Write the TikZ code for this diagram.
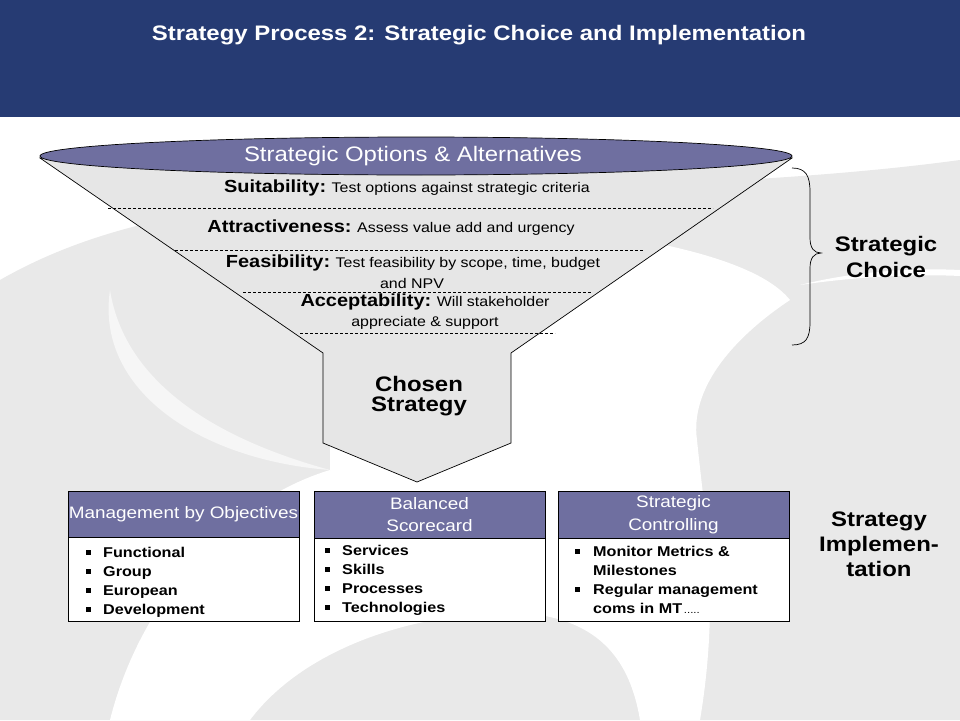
\documentclass[tikz,border=0pt]{standalone}
\usepackage{fontspec}
\setmainfont{Liberation Sans}[FakeStretch=1.14]
\usetikzlibrary{shapes.geometric}
\definecolor{navy}{HTML}{263B73}
\definecolor{band}{HTML}{6F6FA0}
\definecolor{bggrey}{HTML}{E9E9E9}
\definecolor{funnelgrey}{HTML}{E6E6E6}
\newcommand{\fs}[1]{\fontsize{#1}{#1}\selectfont}
\begin{document}
\begin{tikzpicture}[x=1pt,y=-1pt,
  outline/.style={draw=black,line width=0.7pt},
  sepline/.style={draw=black,line width=0.5pt,dash pattern=on 3pt off 2pt},
  hdrtext/.style={text=white,align=center,font=\fs{16.6}},
  itemtext/.style={anchor=base west,font=\bfseries\fs{14.2},inner sep=0pt},
  bigbold/.style={align=center,font=\bfseries\fs{21}}]
\useasboundingbox (0,0) rectangle (960,720);
% background
\fill[white] (0,0) rectangle (960,720);
\fill[bggrey] (0,280) .. controls (110,217) and (250,195) .. (480,190)
  .. controls (700,185) and (850,175) .. (960,160) -- (960,720) -- (0,720) -- cycle;
\fill[white] (330,300) -- (640,240) .. controls (720,255) and (770,275) .. (790,300)
  .. controls (730,340) and (690,390) .. (697,440)
  .. controls (705,520) and (720,600) .. (700,720) -- (640,720)
  .. controls (630,660) and (600,625) .. (540,615)
  .. controls (440,605) and (310,640) .. (250,720) -- (110,720)
  .. controls (140,600) and (230,500) .. (330,470) -- cycle;
\fill[white!60!bggrey] (110,290) .. controls (95,390) and (200,460) .. (330,470)
  .. controls (220,440) and (125,385) .. (110,290) -- cycle;
\fill[white] (800,285) .. controls (860,270) and (920,268) .. (960,270) -- (960,276)
  .. controls (920,274) and (860,276) .. (800,285) -- cycle;
% header
\fill[navy] (0,0) rectangle (960,117);
\node[text=white,font=\bfseries\fs{21}] (title) at (479,35) {Strategy Process 2: Strategic Choice and Implementation};
% funnel
\filldraw[fill=funnelgrey,outline] (40,158) -- (323,353) -- (323,443) -- (417,482)
  -- (511,443) -- (511,353) -- (792,158) -- cycle;
\filldraw[fill=band,outline] (416,156) ellipse [x radius=376pt, y radius=19pt];
\node[text=white,font=\fs{21}] (opts) at (413,156) {Strategic Options \& Alternatives};
% dashed separators
\draw[sepline] (108,208) -- (713,208);
\draw[sepline] (175,250) -- (643,250);
\draw[sepline] (243,292) -- (592,292);
\draw[sepline] (300,333) -- (555,333);
% criteria
\node (suit) at (407,188) {\bfseries\fs{17.5}Suitability:\ \mdseries\fs{14}Test options against strategic criteria};
\node (attr) at (391,228) {\bfseries\fs{17.5}Attractiveness:\ \mdseries\fs{14}Assess value add and urgency};
\node (feas) at (413,263) {\bfseries\fs{17.5}Feasibility:\ \mdseries\fs{14}Test feasibility by scope, time, budget};
\node[font=\fs{14}] (feas2) at (412,283) {and NPV};
\node (acc) at (425,302) {\bfseries\fs{17.5}Acceptability:\ \mdseries\fs{14}Will stakeholder};
\node[font=\fs{14}] (acc2) at (425,323) {appreciate \& support};
% chosen strategy
\node[bigbold] (chosen) at (419,396) {Chosen\\[-1.5pt]Strategy};
% brace
\draw[line width=0.7pt] (792,168) .. controls (806,168) and (810,176) .. (810,192)
  -- (810,238) .. controls (810,248) and (814,253) .. (821,253)
  .. controls (814,253) and (810,258) .. (810,268)
  -- (810,322) .. controls (810,338) and (806,345) .. (792,345);
\node[bigbold] (choice) at (886,257) {Strategic\\[5pt]Choice};
\node[bigbold] (impl) at (879,544) {Strategy\\[4pt]Implemen-\\[4pt]tation};
% boxes
\filldraw[fill=white,outline] (68,491) rectangle (299,621);
\filldraw[fill=band,outline] (68,491) rectangle (299,537);
\node[hdrtext] (h1) at (183.5,514) {Management by Objectives};
\filldraw[fill=white,outline] (314,491) rectangle (545,621);
\filldraw[fill=band,outline] (314,491) rectangle (545,538);
\node[hdrtext] (h2) at (429.5,514.5) {Balanced\\[6pt]Scorecard};
\filldraw[fill=white,outline] (558,491) rectangle (789,621);
\filldraw[fill=band,outline] (558,491) rectangle (789,538);
\node[hdrtext] (h3) at (673.5,514.5) {Strategic\\[6pt]Controlling};
% bullets and items
\foreach \y/\t [count=\i] in {552/Functional,571/Group,590/European,609/Development}{
  \fill (85.5,\y-2.5) rectangle (90.5,\y+2.5);
  \node[itemtext] (a\i) at (103,\y+5) {\t};}
\foreach \y/\t [count=\i] in {550/Services,569/Skills,588/Processes,607/Technologies}{
  \fill (324.5,\y-2.5) rectangle (329.5,\y+2.5);
  \node[itemtext] (b\i) at (342,\y+5) {\t};}
\fill (574.5,548.5) rectangle (579.5,553.5);
\fill (574.5,586.5) rectangle (579.5,591.5);
\node[itemtext] (c1) at (593,556) {Monitor Metrics \&};
\node[itemtext] (c2) at (593,575) {Milestones};
\node[itemtext] (c3) at (593,594) {Regular management};
\node[itemtext] (c4) at (593,613) {coms in MT{\mdseries\fs{10}\,.....}};
\end{tikzpicture}
\end{document}
